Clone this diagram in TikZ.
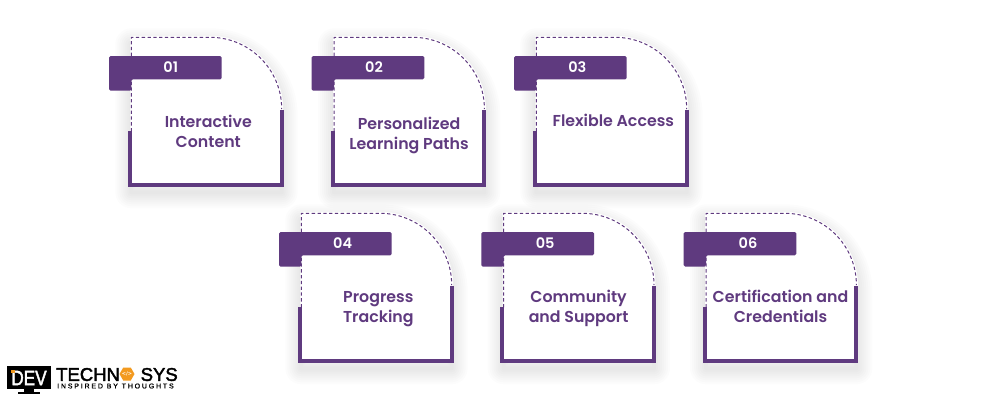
\documentclass[tikz,border=0pt]{standalone}
\usepackage{fontspec}
\setmainfont{Poppins SemiBold}
\newfontfamily\logofont[FakeBold=2.2]{Liberation Sans}
\newfontfamily\logotagfont[LetterSpace=26,FakeBold=1]{Liberation Sans}
\newfontfamily\logosym{DejaVu Sans}
\usetikzlibrary{shapes.geometric}
\definecolor{brand}{HTML}{5F3A7F}
\definecolor{logoorange}{HTML}{F39A1F}
\tikzset{
  cardface/.style={fill=white},
  cardedge/.style={draw=brand,line width=4pt,line cap=butt,line join=miter},
  carddash/.style={draw=brand,line width=1pt,dash pattern=on 3.3pt off 2.5pt},
  tagband/.style={fill=brand,rounded corners=1.5pt},
  tagtext/.style={text=white,font=\fontsize{14.5}{16}\selectfont,inner sep=0pt,anchor=center},
  cardtext/.style={text=brand,font=\fontsize{15.8}{20}\selectfont,align=center,inner sep=0pt,anchor=center},
}
% #1 left x, #2 top y, #3 name, #4 number, #5 number x, #6 text x offset, #7 text y offset, #8 text
\newcommand{\cardbox}[8]{%
  \begin{scope}[shift={(#1,#2)}]
    \foreach \w in {32,28,24,20,16,12,8,4}{
      \draw[black,opacity=0.01,line width=\w pt,line join=round,yshift=-7pt]
        (0,8) -- (0,0) -- (78.7,0) arc[start angle=-90,end angle=0,radius=71.7] -- (150.4,148) -- (0,148) -- cycle;
    }
    \fill[cardface] (-1,-1.5) -- (78.7,-1.5) arc[start angle=-90,end angle=0,radius=73.2] -- (152,148) -- (-1,148) -- cycle;
    \draw[carddash] (0,94) -- (0,0) -- (78.7,0) arc[start angle=-90,end angle=0,radius=71.7];
    \draw[cardedge] (-1.3,93.4) -- (-1.3,148) -- (150.4,148) -- (150.4,72.4);
    \fill[tagband] (-22.3,18.7) -- (90.4,18.7) -- (90.4,42) -- (0,42) -- (0,53.4) -- (-22.3,53.4) -- cycle;
    \node[tagtext] (#3n) at (#5,30) {#4};
    \node[cardtext] (#3t) at (#6,#7) {#8};
  \end{scope}}
\begin{document}
\begin{tikzpicture}[x=1pt,y=-1pt]
\useasboundingbox (0,0) rectangle (1000,400);
\fill[white] (0,0) rectangle (1000,400);
\cardbox{131.3}{37.3}{a}{01}{39.5}{77}{93.7}{Interactive\\Content}
\cardbox{334}{37.3}{b}{02}{40}{75}{98.2}{Personalized\\Learning Paths}
\cardbox{536.3}{37.3}{c}{03}{41}{77}{83.2}{Flexible Access}
\cardbox{301.3}{213.3}{d}{04}{41.4}{77}{96}{Progress\\Tracking}
\cardbox{503.6}{213.3}{e}{05}{41.5}{75}{94.8}{Community\\and Support}
\cardbox{706}{213.3}{f}{06}{42}{74.5}{93.5}{Certification and\\Credentials}
% logo
\fill[black] (7,366) rectangle (51,389);
\fill[black] (24,389) rectangle (34,392);
\fill[black] (18,392) rectangle (40,393.5);
\node[text=white,font=\logofont\fontsize{21}{21}\selectfont,inner sep=0pt,xscale=0.82] (logodev) at (29,378) {DEV};
\fill[logoorange] (10.5,369.5) rectangle (15,373);
\node[text=black,font=\logofont\fontsize{18.5}{19}\selectfont,inner sep=0pt,anchor=west] (logotech) at (56,374.5) {TECHN};
\node[regular polygon,regular polygon sides=6,fill=logoorange,minimum size=15pt,inner sep=0pt] (logohex) at (127,374) {};
\node[text=white,font=\logosym\bfseries\fontsize{5}{5}\selectfont,inner sep=0pt] (logocode) at (127,374) {</>};
\node[text=black,font=\logofont\fontsize{18.5}{19}\selectfont,inner sep=0pt,anchor=west] (logosys) at (140.5,374.5) {SYS};
\node[text=black,font=\logotagfont\fontsize{7}{7}\selectfont,inner sep=0pt,anchor=west] (logotag) at (57,386) {INSPIRED BY THOUGHTS};
\end{tikzpicture}
\end{document}
